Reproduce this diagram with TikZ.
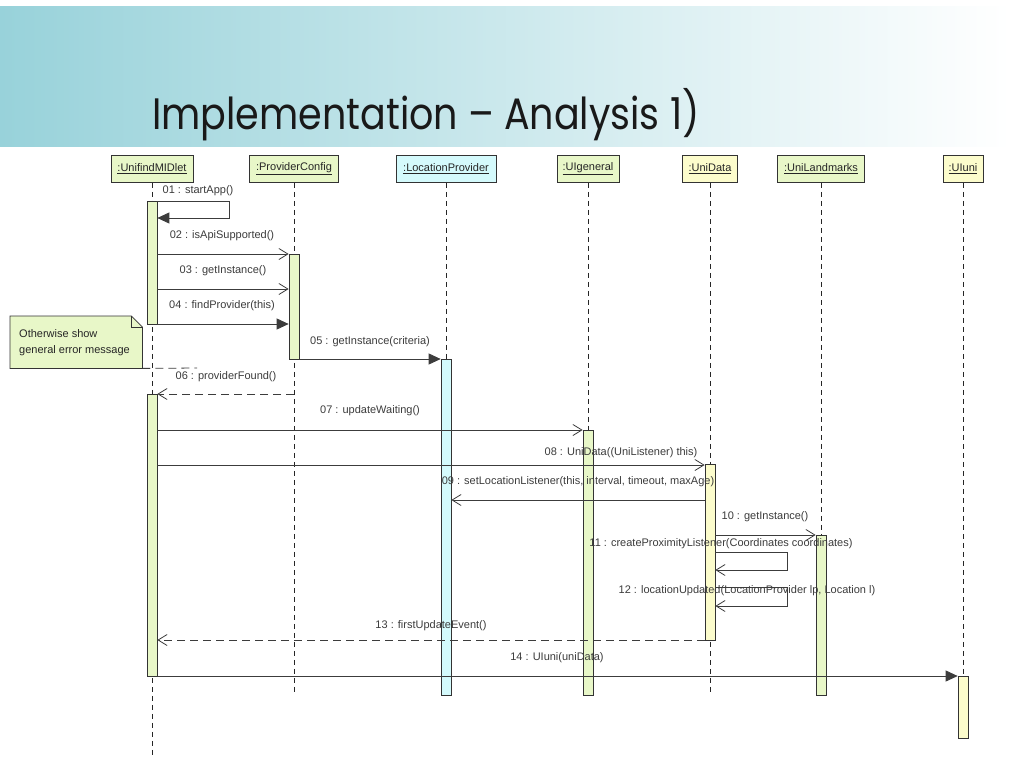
\documentclass[tikz,border=0pt]{standalone}
\usepackage{fontspec}
\setmainfont{Liberation Sans}
\newfontfamily\titlefont{Poppins}
\usetikzlibrary{arrows.meta, calc}

\definecolor{actgreen}{RGB}{232,247,200}
\definecolor{actcyan}{RGB}{212,250,252}
\definecolor{actyellow}{RGB}{252,252,204}
\definecolor{bandteal}{RGB}{152,210,218}
\definecolor{msggray}{RGB}{60,60,60}

\tikzset{
  head/.style={draw=black!80, line width=0.9pt, inner sep=0pt, minimum height=27,
    font=\fontsize{11}{13}\selectfont, text=black!85},
  act/.style={draw=black!80, line width=0.7pt, inner sep=0pt, minimum width=10},
  life/.style={draw=black!85, dash pattern=on 5pt off 4pt, line width=0.7pt},
  msgtxt/.style={font=\fontsize{11}{13}\selectfont, text=msggray, inner sep=0pt},
  call/.style={draw=msggray, line width=0.8pt, -{Straight Barb[length=9pt,width=11pt]}},
  sync/.style={draw=msggray, line width=0.8pt, -{Triangle[length=12pt,width=11pt]}},
  reply/.style={call, dash pattern=on 8pt off 5pt}
}

\begin{document}
\begin{tikzpicture}[x=1pt, y=-1pt]
  \useasboundingbox (0,0) rectangle (1024,768);
  \fill[white] (0,0) rectangle (1024,768);

  % header band and title
  \shade[left color=bandteal, right color=white] (0,7) rectangle (1010,146);
  \node[anchor=base west, inner sep=0pt, text=black!90,
    font=\titlefont\fontsize{44}{50}\selectfont] (title) at (152,129)
    {\scalebox{0.865}[1]{Implementation – Analysis 1)}};

  % lifeline heads
  \node[head, fill=actgreen, minimum width=82] (hUM) at (152,169) {\underline{:UnifindMIDlet}};
  \node[head, fill=actgreen, minimum width=89] (hPC) at (294,169) {\underline{:ProviderConfig}};
  \node[head, fill=actcyan, minimum width=100] (hLP) at (446,169) {\underline{:LocationProvider}};
  \node[head, fill=actgreen, minimum width=62] (hUG) at (588,169) {\underline{:UIgeneral}};
  \node[head, fill=actyellow, minimum width=55] (hUD) at (710,169) {\underline{:UniData}};
  \node[head, fill=actgreen, minimum width=87] (hUL) at (821,169) {\underline{:UniLandmarks}};
  \node[head, fill=actyellow, minimum width=40] (hUI) at (963,169) {\underline{:UIuni}};

  % lifelines
  \foreach \n/\y in {UM/755, PC/693, LP/695, UG/695, UD/693, UL/695, UI/738}
    \draw[life] (h\n.south) -- (h\n.south |- 0,\y);

  % activations
  \node[act, fill=actgreen, minimum height=123] (aUM1) at (152,262.5) {};
  \node[act, fill=actgreen, minimum height=282] (aUM2) at (152,535) {};
  \node[act, fill=actgreen, minimum height=105] (aPC) at (294,306.5) {};
  \node[act, fill=actcyan, minimum height=336] (aLP) at (446,527) {};
  \node[act, fill=actgreen, minimum height=265] (aUG) at (588,562.5) {};
  \node[act, fill=actyellow, minimum height=176] (aUD) at (710,552) {};
  \node[act, fill=actgreen, minimum height=160] (aUL) at (821,615) {};
  \node[act, fill=actyellow, minimum height=62] (aUI) at (963,707) {};

  % message heights
  \coordinate (s01a) at (229,201);
  \coordinate (s01b) at (229,218);
  \coordinate (m02) at (0,254);
  \coordinate (m03) at (0,289);
  \coordinate (m04) at (0,324);
  \coordinate (m05) at (0,359);
  \coordinate (m06) at (0,394);
  \coordinate (m07) at (0,430);
  \coordinate (m08) at (0,465);
  \coordinate (m09) at (0,500);
  \coordinate (m10) at (0,535);
  \coordinate (s11a) at (787,552);
  \coordinate (s11b) at (787,570);
  \coordinate (s12a) at (787,587);
  \coordinate (s12b) at (787,606);
  \coordinate (m13) at (0,640);
  \coordinate (m14) at (0,676);

  % messages
  \draw[sync] (aUM1.east |- s01a) -- (s01a) -- (s01b) -- (aUM1.east |- s01b);
  \draw[call] (aUM1.east |- m02) -- (aPC.west |- m02);
  \draw[call] (aUM1.east |- m03) -- (aPC.west |- m03);
  \draw[sync] (aUM1.east |- m04) -- (aPC.west |- m04);
  \draw[sync] (aPC.east |- m05) -- (aLP.west |- m05);
  \draw[reply] (hPC.south |- m06) -- (aUM2.east |- m06);
  \draw[call] (aUM2.east |- m07) -- (aUG.west |- m07);
  \draw[call] (aUM2.east |- m08) -- (aUD.west |- m08);
  \draw[call] (aUD.west |- m09) -- (aLP.east |- m09);
  \draw[call] (aUD.east |- m10) -- (aUL.west |- m10);
  \draw[call] (aUD.east |- s11a) -- (s11a) -- (s11b) -- (aUD.east |- s11b);
  \draw[call] (aUD.east |- s12a) -- (s12a) -- (s12b) -- (aUD.east |- s12b);
  \draw[reply] (aUD.west |- m13) -- (aUM2.east |- m13);
  \draw[sync] (aUM2.east |- m14) -- (aUI.west |- m14);

  % message labels
  \node[msgtxt] (l01) at (198,191) {01 : startApp()};
  \node[msgtxt] (l02) at (222,236) {02 : isApiSupported()};
  \node[msgtxt] (l03) at (223,271) {03 : getInstance()};
  \node[msgtxt] (l04) at (222,306) {04 : findProvider(this)};
  \node[msgtxt] (l05) at (370,342) {05 : getInstance(criteria)};
  \node[msgtxt] (l06) at (226,377) {06 : providerFound()};
  \node[msgtxt] (l07) at (370,411) {07 : updateWaiting()};
  \node[msgtxt] (l08) at (621,453) {08 : UniData((UniListener) this)};
  \node[msgtxt] (l09) at (578,482) {09 : setLocationListener(this, interval, timeout, maxAge)};
  \node[msgtxt] (l10) at (765,517) {10 : getInstance()};
  \node[msgtxt] (l11) at (721,544) {11 : createProximityListener(Coordinates coordinates)};
  \node[msgtxt] (l12) at (747,591) {12 : locationUpdated(LocationProvider lp, Location l)};
  \node[msgtxt] (l13) at (431,626) {13 : firstUpdateEvent()};
  \node[msgtxt] (l14) at (557,658) {14 : UIuni(uniData)};

  % note
  \node[anchor=north west, inner sep=0pt, minimum width=132, minimum height=52] (note) at (10,316) {};
  \draw[fill=actgreen, draw=black!80, line width=0.8pt] (note.north west)
    -- ($(note.north east)+(-11,0)$) -- ($(note.north east)+(0,11)$)
    -- (note.south east) -- (note.south west) -- cycle;
  \draw[draw=black!80, line width=0.8pt] ($(note.north east)+(-11,0)$)
    -- ($(note.north east)+(-11,11)$) -- ($(note.north east)+(0,11)$);
  \node[anchor=west, align=left, inner sep=0pt, font=\fontsize{11}{16}\selectfont,
    text=black!85] (noteText) at ($(note.west)+(9,0)$) {Otherwise show\\general error message};
  \coordinate (nEnd) at (197,368);
  \draw[draw=msggray, line width=0.8pt, dash pattern=on 8pt off 5pt] (note.south east) -- (nEnd);
\end{tikzpicture}
\end{document}
